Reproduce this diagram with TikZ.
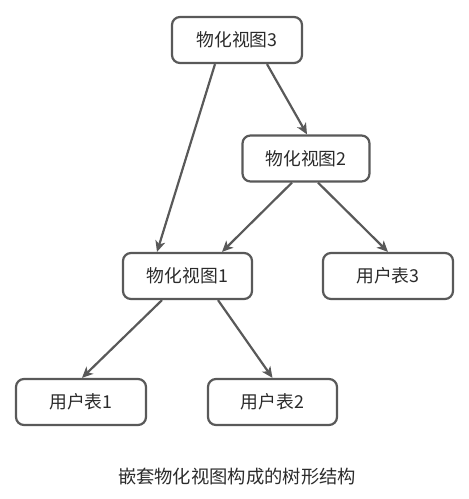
\documentclass[tikz,border=0pt]{standalone}
\usepackage{fontspec}
\setmainfont{Noto Sans CJK SC}
\usetikzlibrary{arrows.meta}
\definecolor{lc}{HTML}{595959}
\definecolor{tc}{HTML}{2b2b2b}
\begin{document}
\begin{tikzpicture}[x=1pt,y=-1pt,
  box/.style={draw=lc,line width=2.2pt,rounded corners=8pt,fill=white,
    minimum width=130pt,minimum height=46pt,inner sep=0pt,
    font=\fontsize{17.8}{20}\selectfont,text=tc},
  arr/.style={draw=lc,line width=2.2pt,-{Stealth[length=11pt,width=10pt,inset=3pt]}}]
\useasboundingbox (0,0) rectangle (469,499);
\node[box] (n3) at (237,40) {物化视图3};
\node[box,minimum width=127pt] (n2) at (306,158.5) {物化视图2};
\node[box,minimum width=129pt] (n1) at (187.5,276) {物化视图1};
\node[box] (t3) at (388,276) {用户表3};
\node[box] (t1) at (81,402) {用户表1};
\node[box,minimum width=129pt] (t2) at (272.5,402) {用户表2};
\node[font=\fontsize{18.3}{20}\selectfont,text=tc] (cap) at (237,477) {嵌套物化视图构成的树形结构};
\draw[arr] ([xshift=30pt]n3.south) -- ([xshift=1pt]n2.north);
\draw[arr] ([xshift=-22pt]n3.south) -- ([xshift=-30.5pt]n1.north);
\draw[arr] ([xshift=-14pt]n2.south) -- ([xshift=34.5pt]n1.north);
\draw[arr] ([xshift=12pt]n2.south) -- (t3.north);
\draw[arr] ([xshift=-25.5pt]n1.south) -- ([xshift=1pt]t1.north);
\draw[arr] ([xshift=30.5pt]n1.south) -- (t2.north);
\end{tikzpicture}
\end{document}
